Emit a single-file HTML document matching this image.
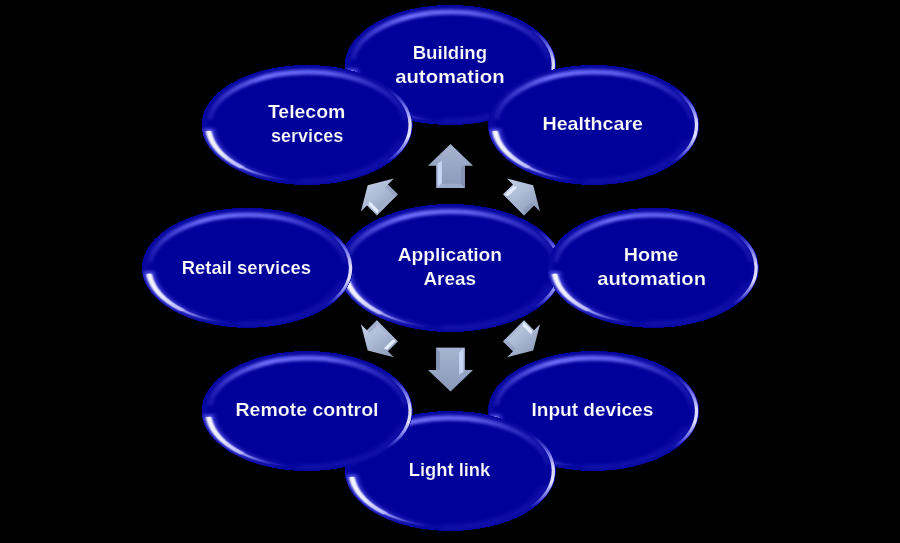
<!DOCTYPE html>
<html><head><meta charset="utf-8"><title>Application Areas</title>
<style>
html,body{margin:0;padding:0;background:#000;}
body{width:900px;height:543px;overflow:hidden;font-family:"Liberation Sans",sans-serif;}
svg{display:block;}
text{font-family:"Liberation Sans",sans-serif;font-weight:bold;font-size:19.0px;fill:#fff;stroke:#00009a;stroke-width:0.2px;}
</style></head><body>
<svg width="900" height="543" viewBox="0 0 900 543">
<defs>
<filter id="b04" x="-20%" y="-20%" width="140%" height="140%"><feGaussianBlur stdDeviation="0.4"/></filter>
<filter id="b07" x="-20%" y="-20%" width="140%" height="140%"><feGaussianBlur stdDeviation="0.7"/></filter>
<filter id="b15" x="-20%" y="-20%" width="140%" height="140%"><feGaussianBlur stdDeviation="1.5"/></filter>
<filter id="b2" x="-20%" y="-20%" width="140%" height="140%"><feGaussianBlur stdDeviation="2"/></filter>
<linearGradient id="ga" x1="0" y1="0" x2="0.8" y2="1">
<stop offset="0" stop-color="#c6d2e8"/><stop offset="0.5" stop-color="#aebbd6"/><stop offset="1" stop-color="#8b99ba"/>
</linearGradient>
<linearGradient id="gb" x1="0" y1="0" x2="0" y2="1">
<stop offset="0" stop-color="#a6b4d1"/><stop offset="1" stop-color="#8b99ba"/>
</linearGradient>
<clipPath id="ec"><circle r="60.0"/></clipPath>
<clipPath id="eC"><ellipse rx="105.6" ry="60.0"/></clipPath>
<linearGradient id="egt" gradientUnits="userSpaceOnUse" x1="-105.6" y1="0" x2="105.6" y2="0">
<stop offset="0" stop-color="#7474ff" stop-opacity="0"/>
<stop offset="0.05" stop-color="#7474ff" stop-opacity="0.25"/>
<stop offset="0.15" stop-color="#7474ff" stop-opacity="0.6"/>
<stop offset="0.3" stop-color="#7474ff" stop-opacity="1"/>
<stop offset="0.6" stop-color="#7474ff" stop-opacity="0.85"/>
<stop offset="0.8" stop-color="#7474ff" stop-opacity="0.42"/>
<stop offset="0.93" stop-color="#7474ff" stop-opacity="0.18"/>
<stop offset="1" stop-color="#7474ff" stop-opacity="0.08"/>
</linearGradient>
<linearGradient id="egl" gradientUnits="userSpaceOnUse" x1="-56.0" y1="4.9" x2="-9.8" y2="55.3">
<stop offset="0" stop-color="#f8f8ff" stop-opacity="1"/>
<stop offset="0.32" stop-color="#ececff" stop-opacity="1"/>
<stop offset="0.64" stop-color="#b0b0ff" stop-opacity="0.85"/>
<stop offset="0.88" stop-color="#6868f0" stop-opacity="0.18"/>
<stop offset="1" stop-color="#5050e0" stop-opacity="0"/>
</linearGradient>
<linearGradient id="egw" gradientUnits="userSpaceOnUse" x1="-56.0" y1="4.9" x2="-9.8" y2="55.3">
<stop offset="0" stop-color="#6868ff" stop-opacity="1"/>
<stop offset="0.5" stop-color="#5858f0" stop-opacity="0.8"/>
<stop offset="1" stop-color="#4040d0" stop-opacity="0"/>
</linearGradient>
<linearGradient id="egr" gradientUnits="userSpaceOnUse" x1="0" y1="-36.0" x2="0" y2="37.2">
<stop offset="0" stop-color="#7070ff" stop-opacity="0"/>
<stop offset="0.25" stop-color="#9090ff" stop-opacity="0.8"/>
<stop offset="0.45" stop-color="#d8d8ff" stop-opacity="1"/>
<stop offset="0.65" stop-color="#e0e0ff" stop-opacity="1"/>
<stop offset="0.85" stop-color="#9090ff" stop-opacity="0.7"/>
<stop offset="1" stop-color="#7070ff" stop-opacity="0"/>
</linearGradient>

<g id="e">
<ellipse rx="105.6" ry="60.0" fill="#00009a" shape-rendering="crispEdges"/>
<g clip-path="url(#eC)">
<ellipse rx="102.6" ry="57.5" fill="none" stroke="#1c1cb4" stroke-width="5" filter="url(#b2)" opacity="0.4"/>
<path d="M-97.56,-5.54A98.10,53.00 0 0 1 97.56,-5.54" fill="none" stroke="url(#egt)" stroke-width="4.8" filter="url(#b15)"/>
</g>
<g transform="scale(1.7600,1)"><g clip-path="url(#ec)">
<path d="M53.61,14.36A55.50,55.50 0 0 1 -4.84,55.29" fill="none" stroke="#3a3ad0" stroke-width="4" filter="url(#b2)" opacity="0.28"/>
<path d="M43.47,-39.14A58.50,58.50 0 0 1 44.81,37.60" fill="none" stroke="url(#egr)" stroke-width="1.9" filter="url(#b04)"/>
<path d="M-56.10,3.43A56.20,56.20 0 0 0 -9.76,55.35" fill="none" stroke="url(#egw)" stroke-width="6" filter="url(#b15)" opacity="0.75"/>
<path d="M-55.89,5.87A56.20,56.20 0 0 0 -9.76,55.35" fill="none" stroke="url(#egl)" stroke-width="1.8" filter="url(#b07)"/>
<path d="M-55.92,7.36A56.40,56.40 0 0 0 -37.74,41.91" fill="none" stroke="url(#egl)" stroke-width="3" stroke-linecap="round" filter="url(#b07)"/>
</g></g></g>

</defs>
<rect width="900" height="543" fill="#000"/>
<use href="#e" transform="translate(450.4,268.0) scale(1.0667)"/>
<use href="#e" transform="translate(450.4,65.0)"/>
<use href="#e" transform="translate(593.6,125.0)"/>
<use href="#e" transform="translate(653.2,267.8)"/>
<use href="#e" transform="translate(593.6,411.0)"/>
<use href="#e" transform="translate(450.4,471.0)"/>
<use href="#e" transform="translate(307.2,411.0)"/>
<use href="#e" transform="translate(247.6,267.8)"/>
<use href="#e" transform="translate(307.2,125.0)"/>
<polygon points="450.5,144.1 473.0,165.7 464.9,165.7 464.9,187.9 436.1,187.9 436.1,165.7 428.0,165.7" fill="url(#gb)"/>
<polygon points="436.1,187.9 441.5,183.7 460.1,183.7 464.9,187.9" fill="#a6b4d2" opacity="0.7" filter="url(#b04)"/>
<polygon points="464.9,165.7 461.1,165.7 461.1,183.7 464.9,187.9" fill="#7f8db0" opacity="0.7" filter="url(#b07)"/>
<polygon points="437.6,163.6 441.9,160.9 441.9,183.3 437.6,187.1" fill="#c8d6f6" filter="url(#b07)"/>
<polygon points="533.2,185.2 540.0,211.4 534.0,205.4 524.1,215.4 503.0,194.3 513.0,184.4 507.0,178.4" fill="url(#ga)"/>
<polygon points="503.0,194.3 508.8,196.4 522.4,210.0 524.1,215.4" fill="#a6b4d2" opacity="0.7" filter="url(#b04)"/>
<polygon points="534.0,205.4 531.3,202.7 523.2,210.7 524.1,215.4" fill="#7f8db0" opacity="0.4" filter="url(#b07)"/>
<polygon points="513.7,185.9 517.2,187.2 508.2,196.1 504.7,194.9" fill="#e4ecff" filter="url(#b07)"/>
<polygon points="533.2,350.5 507.0,357.3 513.0,351.3 503.0,341.4 524.1,320.3 534.0,330.3 540.0,324.3" fill="url(#ga)"/>
<polygon points="524.1,320.3 522.0,326.1 508.4,339.7 503.0,341.4" fill="#a6b4d2" opacity="0.7" filter="url(#b04)"/>
<polygon points="513.0,351.3 515.7,348.6 507.7,340.5 503.0,341.4" fill="#7f8db0" opacity="0.4" filter="url(#b07)"/>
<polygon points="532.5,331.0 531.2,334.5 522.3,325.5 523.5,322.0" fill="#e4ecff" filter="url(#b07)"/>
<polygon points="450.5,391.6 428.0,370.0 436.1,370.0 436.1,347.8 464.9,347.8 464.9,370.0 473.0,370.0" fill="url(#gb)"/>
<polygon points="464.9,347.8 459.5,352.0 440.9,352.0 436.1,347.8" fill="#a6b4d2" opacity="0.7" filter="url(#b04)"/>
<polygon points="436.1,370.0 439.9,370.0 439.9,352.0 436.1,347.8" fill="#7f8db0" opacity="0.7" filter="url(#b07)"/>
<polygon points="463.4,372.1 459.1,374.8 459.1,352.4 463.4,348.6" fill="#c8d6f6" filter="url(#b07)"/>
<polygon points="367.7,350.5 360.9,324.3 366.9,330.3 376.8,320.3 397.9,341.4 387.9,351.3 393.9,357.3" fill="url(#ga)"/>
<polygon points="397.9,341.4 392.1,339.3 378.5,325.7 376.8,320.3" fill="#a6b4d2" opacity="0.7" filter="url(#b04)"/>
<polygon points="366.9,330.3 369.6,333.0 377.7,325.0 376.8,320.3" fill="#7f8db0" opacity="0.4" filter="url(#b07)"/>
<polygon points="387.2,349.8 383.7,348.5 392.7,339.6 396.2,340.8" fill="#e4ecff" filter="url(#b07)"/>
<polygon points="367.7,185.2 393.9,178.4 387.9,184.4 397.9,194.3 376.8,215.4 366.9,205.4 360.9,211.4" fill="url(#ga)"/>
<polygon points="376.8,215.4 378.9,209.6 392.5,196.0 397.9,194.3" fill="#a6b4d2" opacity="0.7" filter="url(#b04)"/>
<polygon points="387.9,184.4 385.2,187.1 393.2,195.2 397.9,194.3" fill="#7f8db0" opacity="0.4" filter="url(#b07)"/>
<polygon points="368.4,204.7 369.7,201.2 378.6,210.2 377.4,213.7" fill="#e4ecff" filter="url(#b07)"/>
<g opacity="0.996">
<text x="412.68" y="58.70" textLength="74.39" lengthAdjust="spacingAndGlyphs">Building</text>
<text x="395.20" y="82.70" textLength="109.36" lengthAdjust="spacingAndGlyphs">automation</text>
<text x="267.95" y="117.80" textLength="77.35" lengthAdjust="spacingAndGlyphs">Telecom</text>
<text x="270.95" y="141.50" textLength="72.35" lengthAdjust="spacingAndGlyphs">services</text>
<text x="542.44" y="129.60" textLength="100.61" lengthAdjust="spacingAndGlyphs">Healthcare</text>
<text x="181.70" y="273.70" textLength="129.35" lengthAdjust="spacingAndGlyphs">Retail services</text>
<text x="397.70" y="260.70" textLength="104.35" lengthAdjust="spacingAndGlyphs">Application</text>
<text x="423.45" y="284.70" textLength="52.59" lengthAdjust="spacingAndGlyphs">Areas</text>
<text x="623.70" y="260.70" textLength="54.86" lengthAdjust="spacingAndGlyphs">Home</text>
<text x="597.20" y="284.70" textLength="108.85" lengthAdjust="spacingAndGlyphs">automation</text>
<text x="235.44" y="416.20" textLength="143.12" lengthAdjust="spacingAndGlyphs">Remote control</text>
<text x="531.45" y="416.20" textLength="121.85" lengthAdjust="spacingAndGlyphs">Input devices</text>
<text x="408.70" y="475.60" textLength="81.60" lengthAdjust="spacingAndGlyphs">Light link</text>
</g>
</svg></body></html>
